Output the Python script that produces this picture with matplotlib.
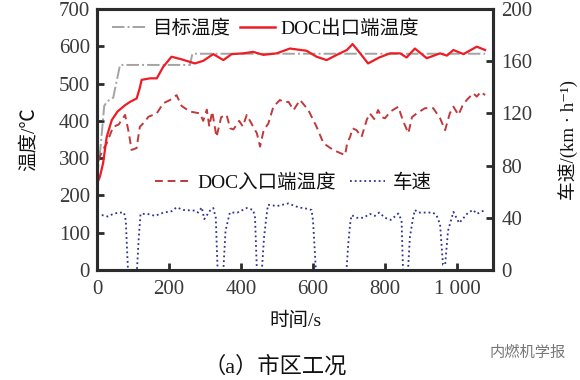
import matplotlib
matplotlib.use("Agg")
import matplotlib.pyplot as plt
from matplotlib.lines import Line2D

plt.rcParams["font.family"] = ["Liberation Serif", "Noto Sans CJK SC", "DejaVu Sans"]

# target temperature (gray dash-dot)
target_t = [0, 10, 20, 28, 45, 64, 258, 265, 1078]
target_v = [250, 330, 440, 452, 462, 550, 550, 580, 580]

# DOC outlet temperature (red solid)
outlet_t = [0, 8, 17, 27, 41, 57, 78, 92, 110, 118,
            124, 147, 166, 184, 207, 235, 272, 295, 323, 351,
            374, 406, 434, 462, 499, 536, 582, 610, 638, 666,
            694, 710, 731, 753, 784, 814, 842, 860, 883, 916,
            953, 972, 990, 1018, 1055, 1078]
outlet_v = [232, 250, 287, 357, 402, 425, 442, 451, 460, 485,
            510, 514, 514, 545, 572, 565, 554, 561, 579, 563,
            579, 581, 585, 577, 581, 594, 588, 572, 563, 577,
            590, 606, 581, 554, 570, 581, 581, 570, 594, 568,
            581, 575, 590, 579, 599, 590]

# DOC inlet temperature (dark red dashed)
inlet_t = [4, 15, 27, 45, 60, 78, 88, 96, 110, 119,
           130, 143, 166, 184, 203, 221, 235, 258, 286, 295,
           305, 312, 320, 332, 345, 360, 370, 379, 395, 405,
           416, 425, 434, 444, 453, 463, 476, 490, 508, 520,
           532, 546, 564, 587, 610, 629, 656, 689, 695, 703,
           710, 721, 735, 749, 758, 770, 781, 790, 800, 815,
           837, 850, 865, 875, 888, 911, 934, 953, 967, 980,
           990, 1004, 1015, 1027, 1045, 1055, 1066, 1078]
inlet_v = [295, 320, 340, 384, 390, 416, 370, 322, 327, 384,
           395, 411, 420, 447, 456, 469, 440, 425, 420, 400,
           430, 385, 425, 357, 410, 416, 380, 377, 400, 385,
           416, 400, 384, 367, 331, 375, 393, 438, 456, 450,
           451, 429, 456, 429, 384, 340, 322, 308, 340, 357,
           380, 375, 357, 402, 420, 405, 429, 410, 407, 425,
           438, 400, 367, 410, 420, 434, 434, 407, 375, 420,
           438, 416, 440, 456, 474, 465, 478, 469]

# vehicle speed (blue dotted), km/h
speed_t = [0, 15, 30, 45, 60, 75, 80, 86, 111, 116,
           121, 140, 161, 185, 207, 221, 240, 272, 281, 291,
           298, 314, 323, 330, 335, 351, 357, 369, 390, 416,
           434, 439, 444, 458, 464, 471, 475, 500, 531, 560,
           582, 596, 600, 608, 693, 698, 703, 707, 722, 740,
           758, 772, 784, 800, 816, 837, 846, 850, 864, 869,
           878, 883, 892, 915, 933, 943, 953, 961, 967, 975,
           990, 1006, 1031, 1045, 1055, 1078]
speed_v = [42, 42, 41, 43, 44, 44, 38, 0, 0, 25,
           43, 43, 41.5, 44, 45, 48, 46, 45.5, 44, 48,
           39, 45.5, 47.5, 40, 0, 0, 30, 44, 44, 47.5,
           46, 40, 0, 0, 25, 42, 50, 49, 51, 48,
           47, 46, 38, 0, 0, 20, 35, 42, 40, 40,
           43, 41.5, 44, 40, 38.4, 43.3, 38, 0, 0, 25,
           40, 46, 44, 44, 44, 42, 35, 4, 4, 30,
           44.5, 36, 44, 46, 43, 46]

c_target = "#a3a3a3"
c_outlet = "#ee1c25"
c_inlet = "#c0393b"
c_speed = "#2e3192"
c_axis = "#2b2b2b"
c_text = "#3a3a3a"

fig = plt.figure(figsize=(5.8, 3.8), dpi=100)
ax = fig.add_axes([97 / 580, 1 - 270 / 380, 396 / 580, 261 / 380])
ax2 = ax.twinx()

ax.plot(target_t, target_v, "-.", color=c_target, lw=1.4)
ax.plot(inlet_t, inlet_v, "--", color=c_inlet, lw=1.4, dashes=(4, 2.5))
ax.plot(outlet_t, outlet_v, "-", color=c_outlet, lw=1.6)
ax2.plot(speed_t, speed_v, ":", color=c_speed, lw=1.3)

ax.set_xlim(0, 1100)
ax.set_ylim(0, 700)
ax2.set_ylim(0, 200)
ax.set_xticks([0, 200, 400, 600, 800, 1000])
ax.set_xticklabels(["0", "200", "400", "600", "800", "1 000"])
ax.set_yticks(range(0, 701, 100))
ax2.set_yticks(range(0, 201, 40))

for a in (ax, ax2):
    for s in a.spines.values():
        s.set_linewidth(2.2)
        s.set_color(c_axis)
ax.tick_params(axis="x", direction="in", length=5, width=2, pad=7,
               labelsize=15, colors=c_axis, labelcolor=c_text)
ax.tick_params(axis="y", direction="in", length=5, width=2, pad=5,
               labelsize=15, colors=c_axis, labelcolor=c_text)
ax2.tick_params(axis="y", direction="in", length=5, width=2, pad=6,
                labelsize=15, colors=c_axis, labelcolor=c_text)

ax.set_xlabel("时间/s", fontsize=14, color="#111111")
ax.xaxis.set_label_coords(0.5, -0.16)
ax.set_ylabel("温度/℃", fontsize=14, color="#111111")
ax.yaxis.set_label_coords(-0.15, 0.5)
ax2.set_ylabel("车速/(km · h⁻¹)", fontsize=13.5, color="#111111",
               rotation=90)
ax2.yaxis.set_label_coords(1.165, 0.5)

h1 = [Line2D([], [], ls="-.", color=c_target, lw=1.4),
      Line2D([], [], ls="-", color=c_outlet, lw=1.8)]
leg1 = ax2.legend(h1, ["目标温度", "DOC出口端温度"], ncol=2, frameon=False,
                  loc="center left", bbox_to_anchor=(112 / 580, 1 - 29 / 380),
                  bbox_transform=fig.transFigure, fontsize=14, borderpad=0,
                  borderaxespad=0, handlelength=1.8, handletextpad=0.3,
                  columnspacing=0.45, labelcolor="#111111")
ax2.add_artist(leg1)
h2 = [Line2D([], [], ls="--", color=c_inlet, lw=1.4, dashes=(4, 2.5)),
      Line2D([], [], ls=":", color=c_speed, lw=1.3)]
ax2.legend(h2, ["DOC入口端温度", "车速"], ncol=2, frameon=False,
           loc="center left", bbox_to_anchor=(155 / 580, 1 - 183 / 380),
           bbox_transform=fig.transFigure, fontsize=14, borderpad=0,
           borderaxespad=0, handlelength=1.8, handletextpad=0.4,
           columnspacing=0.7, labelcolor="#111111")

fig.text(275 / 580, 1 - 367 / 380, "（a）市区工况", fontsize=16,
         ha="center", va="center", color="#111111")
fig.text(528 / 580, 1 - 353 / 380, "内燃机学报", fontsize=11,
         ha="center", va="center", color="#777777")

fig.savefig("out.png", dpi=100)
